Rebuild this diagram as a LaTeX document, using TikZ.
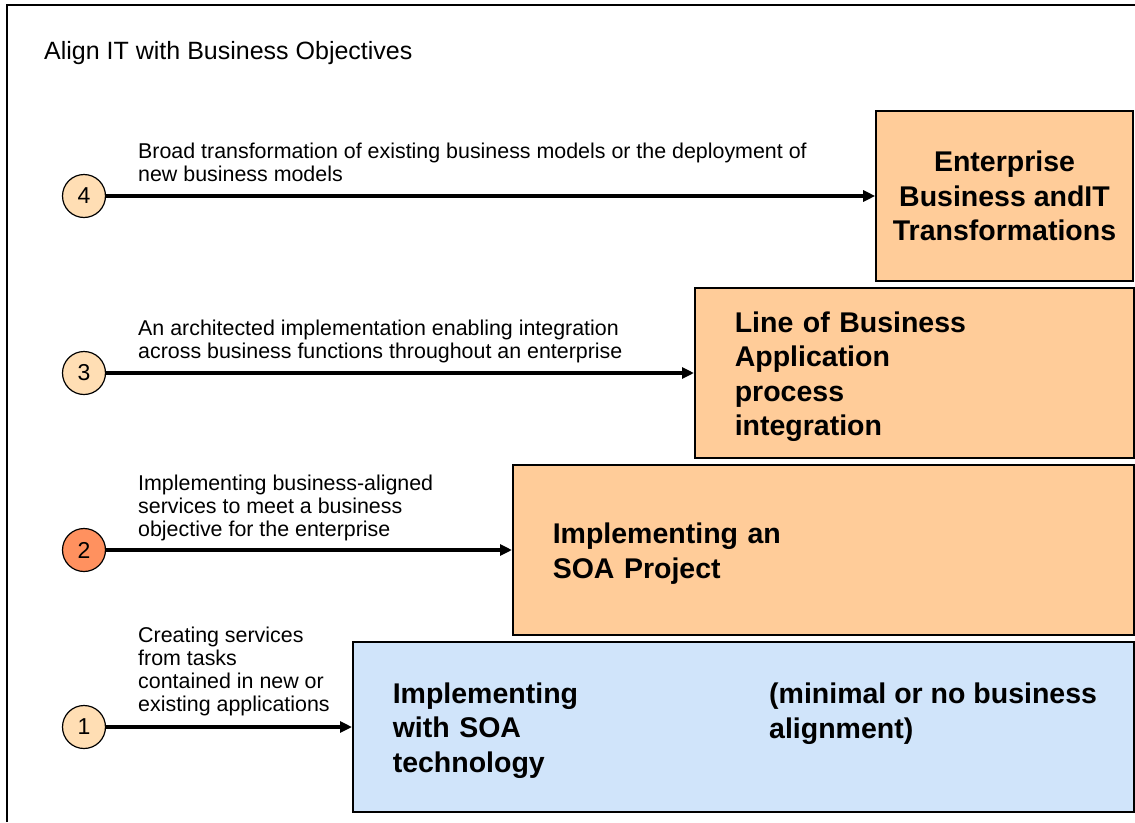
\documentclass[tikz,border=0pt]{standalone}
\usepackage{fontspec}
\setmainfont{Liberation Sans}
\usetikzlibrary{arrows.meta, positioning}

\definecolor{boxorange}{RGB}{255,204,153}
\definecolor{boxblue}{RGB}{208,228,250}
\definecolor{circlelight}{RGB}{255,222,180}
\definecolor{circledark}{RGB}{255,145,95}

\begin{document}
\begin{tikzpicture}[x=1pt, y=-1pt,
  level box/.style={draw, line width=1.6pt, minimum height=170pt, inner ysep=0pt, font=\fontsize{28.5}{34.5}\selectfont\bfseries},
  left box/.style={level box, align=left, inner xsep=40pt, anchor=west, execute at begin node={\rule{0pt}{28pt}}},
  step circle/.style={draw, circle, line width=1.2pt, minimum size=43pt, inner sep=0pt, font=\fontsize{23}{26}\selectfont},
  step label/.style={anchor=base west, align=left, inner sep=0pt, font=\fontsize{21.4}{23}\selectfont},
  arr/.style={-{Triangle[length=12pt, width=11pt]}, line width=3.2pt},
]
\useasboundingbox (0,0) rectangle (1135,822);

% frame and title
\draw[line width=1.4pt] (7,822) -- (7,5) -- (1135,5);
\node[anchor=base west, inner sep=0pt, font=\fontsize{25}{28}\selectfont] (title) at (44,59) {Align IT with Business Objectives};

% levels
\node[level box, fill=boxorange, minimum width=257pt, align=center, execute at begin node={\rule{0pt}{25pt}}] (b4) at (1004.5,196) {Enterprise\\Business andIT\\Transformations};
\node[left box, fill=boxorange, minimum width=439pt, text width=359pt] (b3) at (694,373) {Line of Business\\Application\\process\\integration};
\node[left box, fill=boxorange, minimum width=621pt, text width=541pt] (b2) at (512,550) {Implementing an\\SOA Project};
\node[left box, fill=boxblue, minimum width=781pt, text width=701pt] (b1) at (352,727) {Implementing\\with SOA\\technology};
\node[anchor=base west, align=left, inner sep=0pt, font=\fontsize{28.5}{34.5}\selectfont\bfseries] (note) at (769,738) {(minimal or no business\\alignment)};

% steps
\node[step circle, fill=circlelight] (c4) at (84,196) {4};
\node[step circle, fill=circlelight] (c3) at (84,373) {3};
\node[step circle, fill=circledark] (c2) at (84,550) {2};
\node[step circle, fill=circlelight] (c1) at (84,727) {1};

\node[step label] (l4) at (138,181) {Broad transformation of existing business models or the deployment of\\new business models};
\node[step label] (l3) at (138,358) {An architected implementation enabling integration\\across business functions throughout an enterprise};
\node[step label] (l2) at (138,536) {Implementing business-aligned\\services to meet a business\\objective for the enterprise};
\node[step label] (l1) at (138,711) {Creating services\\from tasks\\contained in new or\\existing applications};

\draw[arr] (c4) -- (b4);
\draw[arr] (c3) -- (b3);
\draw[arr] (c2) -- (b2);
\draw[arr] (c1) -- (b1);

\end{tikzpicture}
\end{document}
